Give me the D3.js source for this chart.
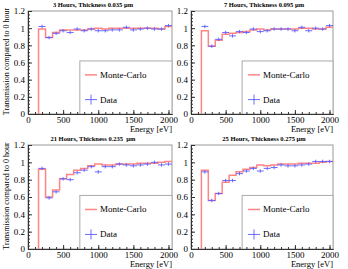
<!DOCTYPE html>
<html>
<head>
<meta charset="utf-8">
<script src="https://cdn.jsdelivr.net/npm/d3@7"></script>
<style>
  body { margin: 0; background: #fff; }
  text { font-family: 'Liberation Serif', 'Times New Roman', serif; fill: #000; }
</style>
</head>
<body>
<svg id="mainsvg" width="348" height="269"></svg>
<script>
// bin centres (eV), bins are 100 eV wide
const energies = [200, 300, 400, 500, 600, 700, 800, 900, 1000, 1100,
                  1200, 1300, 1400, 1500, 1600, 1700, 1800, 1900, 2000];
const titles = ['3 Hours, Thickness 0.035 \u00b5m', '7 Hours, Thickness 0.095 \u00b5m',
                '21 Hours, Thickness 0.235  \u00b5m', '25 Hours, Thickness 0.275 \u00b5m'];
const yTicks = [0, 0.2, 0.4, 0.6, 0.8, 1, 1.2];
const xTicks = [0, 500, 1000, 1500, 2000];

const mc3h   = [0.99, 0.89, 0.95, 0.98, 0.98, 0.98, 0.98, 0.99, 1.00, 0.99, 1.00, 1.00, 1.00, 1.00, 1.00, 1.00, 1.00, 0.99, 1.02];
const data3h = [1.02, 0.89, 0.94, 0.97, 0.95, 0.99, 0.97, 0.99, 0.97, 0.97, 0.98, 0.98, 1.01, 0.98, 0.99, 1.00, 0.99, 0.99, 1.03];
const mc7h   = [0.97, 0.79, 0.86, 0.93, 0.94, 0.95, 0.96, 0.98, 0.99, 0.98, 0.99, 0.99, 0.99, 0.99, 1.00, 1.00, 0.99, 0.99, 1.01];
const data7h = [1.02, 0.79, 0.87, 0.95, 0.91, 0.96, 0.95, 0.99, 0.96, 0.97, 0.99, 0.99, 0.99, 0.97, 1.01, 0.97, 1.00, 0.99, 1.03];
const mc21h   = [0.92, 0.60, 0.68, 0.81, 0.86, 0.91, 0.93, 0.96, 0.98, 0.97, 0.97, 0.98, 0.98, 0.98, 0.99, 0.99, 0.99, 1.00, 1.01];
const data21h = [0.93, 0.59, 0.66, 0.81, 0.80, 0.88, 0.91, 0.95, 0.89, 0.95, 0.95, 0.98, 0.97, 0.96, 0.97, 0.98, 1.00, 0.97, 0.98];
const mc25h   = [0.91, 0.56, 0.64, 0.77, 0.85, 0.89, 0.92, 0.94, 0.97, 0.96, 0.97, 0.98, 0.98, 0.98, 0.99, 0.99, 0.99, 1.00, 1.01];
const data25h = [0.89, 0.56, 0.64, 0.79, 0.79, 0.87, 0.90, 0.93, 0.90, 0.93, 0.94, 0.97, 0.96, 0.96, 0.97, 0.98, 1.01, 1.01, 1.01];
const dataErr = 0.02;

const svg = d3.select('#mainsvg');
const mcColor = '#ff8585';
const dataColor = '#5b5bff';

// frame positions for the 2x2 grid
const colX = [[28, 172], [191, 333]];
const rowY = [[11, 114], [145, 249]];
const titleX = [93, 264];

const panels = [
  { title: titles[0], mc: mc3h,  data: data3h,  col: 0, row: 0 },
  { title: titles[1], mc: mc7h,  data: data7h,  col: 1, row: 0 },
  { title: titles[2], mc: mc21h, data: data21h, col: 0, row: 1 },
  { title: titles[3], mc: mc25h, data: data25h, col: 1, row: 1 }
];

const render_panel = function(p) {
  const [left, right] = colX[p.col];
  const [top, bottom] = rowY[p.row];
  const w = right - left, h = bottom - top;

  const xScale = d3.scaleLinear().domain([0, 2050]).range([left, right]);
  const yScale = d3.scaleLinear().domain([0, 1.2]).range([bottom, top]);

  const g = svg.append('g');

  // frame
  g.append('rect')
    .attr('x', left).attr('y', top).attr('width', w).attr('height', h)
    .attr('fill', 'none').attr('stroke', '#999').attr('stroke-width', 1);

  // legend box
  const lx = left + w * 0.36, ly = top + h * 0.485;
  g.append('rect')
    .attr('x', lx).attr('y', ly).attr('width', right - lx).attr('height', bottom - ly)
    .attr('fill', '#fff').attr('stroke', '#aaa').attr('stroke-width', 1);

  // MC histogram as a step line
  const pts = [[150, 0]];
  energies.forEach((e, i) => {
    pts.push([e - 50, p.mc[i]]);
    pts.push([e + 50, p.mc[i]]);
  });
  const line = d3.line()
    .x(d => xScale(d[0]))
    .y(d => yScale(d[1]));
  g.append('path').datum(pts)
    .attr('d', line)
    .attr('fill', 'none')
    .attr('stroke', mcColor)
    .attr('stroke-width', 1.5);

  // data crosses
  const pg = g.append('g').attr('stroke', dataColor).attr('stroke-width', 0.9);
  pg.selectAll('.hbar').data(p.data).join('line')
    .attr('x1', (d, i) => xScale(energies[i] - 50))
    .attr('x2', (d, i) => xScale(energies[i] + 50))
    .attr('y1', d => yScale(d)).attr('y2', d => yScale(d));
  pg.selectAll('.vbar').data(p.data).join('line')
    .attr('x1', (d, i) => xScale(energies[i]))
    .attr('x2', (d, i) => xScale(energies[i]))
    .attr('y1', d => yScale(d - dataErr)).attr('y2', d => yScale(d + dataErr));

  // axes: ticks point inside the frame
  const yAxis = d3.axisLeft(yScale).tickValues(yTicks).tickFormat(d3.format('~g'))
    .tickSizeInner(-4).tickSizeOuter(0).tickPadding(3);
  const yMinor = d3.axisLeft(yScale).tickValues(d3.range(0, 1.2001, 0.04))
    .tickFormat('').tickSizeInner(-2).tickSizeOuter(0);
  const xAxis = d3.axisBottom(xScale).tickValues(xTicks).tickFormat(d3.format('d'))
    .tickSizeInner(-4).tickSizeOuter(0).tickPadding(3);
  const xMinor = d3.axisBottom(xScale).tickValues(d3.range(0, 2050, 100))
    .tickFormat('').tickSizeInner(-2).tickSizeOuter(0);

  [yAxis, yMinor].forEach(ax => {
    g.append('g').attr('transform', `translate(${left}, 0)`).call(ax);
  });
  [xAxis, xMinor].forEach(ax => {
    g.append('g').attr('transform', `translate(0, ${bottom})`).call(ax);
  });
  g.selectAll('.domain').attr('stroke', '#333');
  g.selectAll('.tick line').attr('stroke', '#333');
  g.selectAll('.tick text')
    .attr('font-size', '9px')
    .attr('font-family', "'Liberation Serif', serif")
    .attr('fill', '#000');

  // x axis title
  g.append('text')
    .attr('x', right).attr('y', bottom + 18)
    .attr('text-anchor', 'end')
    .attr('font-size', '8.5px')
    .text('Energy [eV]');

  // panel title
  g.append('text')
    .attr('x', titleX[p.col]).attr('y', top - 4)
    .attr('text-anchor', 'middle')
    .attr('font-size', '6.5px')
    .attr('font-weight', 'bold')
    .style('white-space', 'pre')
    .text(p.title);

  // y axis title only on the left column
  if (p.col === 0) {
    g.append('text')
      .attr('transform', `rotate(-90)`)
      .attr('x', -(top + h / 2 - 1)).attr('y', 9)
      .attr('text-anchor', 'middle')
      .attr('font-size', '8px')
      .text('Transmission compared to 0 hour');
  }

  // legend entries
  const ex0 = left + 57, ex1 = left + 69;
  const yMc = top + h * 0.62, yData = top + h * 0.86;
  g.append('line')
    .attr('x1', ex0).attr('x2', ex1).attr('y1', yMc).attr('y2', yMc)
    .attr('stroke', mcColor).attr('stroke-width', 1.5);
  g.append('text')
    .attr('x', ex1 + 3).attr('y', yMc + 3)
    .attr('font-size', '9px')
    .text('Monte-Carlo');
  g.append('line')
    .attr('x1', ex0).attr('x2', ex1).attr('y1', yData).attr('y2', yData)
    .attr('stroke', dataColor).attr('stroke-width', 0.9);
  g.append('line')
    .attr('x1', (ex0 + ex1) / 2).attr('x2', (ex0 + ex1) / 2)
    .attr('y1', yData - 5).attr('y2', yData + 5)
    .attr('stroke', dataColor).attr('stroke-width', 0.9);
  g.append('text')
    .attr('x', ex1 + 3).attr('y', yData + 3)
    .attr('font-size', '9px')
    .text('Data');
};

panels.forEach(render_panel);
</script>
</body>
</html>
